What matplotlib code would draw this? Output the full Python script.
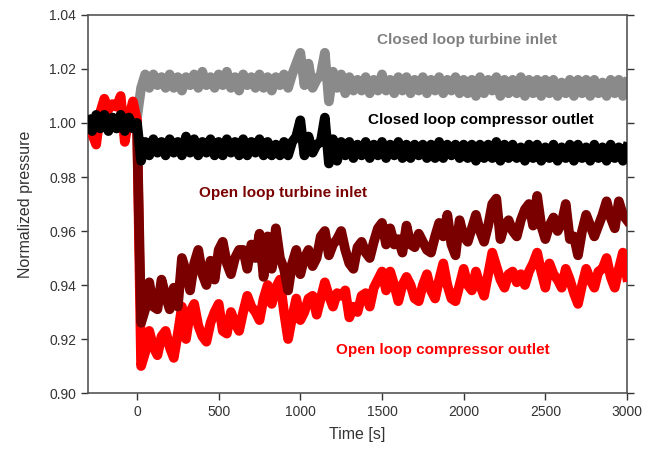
import numpy as np
import matplotlib as mpl
mpl.use('Agg')
import matplotlib.pyplot as plt

plt.rcParams['font.family'] = ['Liberation Sans', 'DejaVu Sans']

# sampling grid of the logged traces [s]
time_s = np.arange(-300, 3001, 25)

# normalized pressures (t = -300 ... 3000 s, every 25 s)
closed_turbine_in = [
    1.000, 0.999, 1.001, 0.999, 1.001, 1.000, 1.001, 0.999, 1.001, 1.000, 1.001, 0.999, 1.002,
    1.013, 1.018, 1.013, 1.018, 1.014, 1.017, 1.013, 1.018, 1.013, 1.017,
    1.012, 1.017, 1.014, 1.018, 1.013, 1.019, 1.014, 1.017, 1.013, 1.018,
    1.014, 1.019, 1.013, 1.017, 1.012, 1.018, 1.014, 1.017, 1.013, 1.018,
    1.013, 1.017, 1.012, 1.017, 1.014, 1.018, 1.013, 1.018, 1.022, 1.026,
    1.014, 1.022, 1.013, 1.016, 1.018, 1.026, 1.008, 1.019, 1.013, 1.018,
    1.011, 1.017, 1.012, 1.016, 1.012, 1.017, 1.011, 1.016, 1.012, 1.018,
    1.012, 1.016, 1.011, 1.017, 1.012, 1.017, 1.011, 1.016, 1.012, 1.017,
    1.011, 1.016, 1.012, 1.017, 1.011, 1.016, 1.012, 1.017, 1.011, 1.016,
    1.011, 1.016, 1.010, 1.017, 1.011, 1.016, 1.012, 1.017, 1.010, 1.016,
    1.011, 1.016, 1.011, 1.017, 1.010, 1.016, 1.011, 1.016, 1.010, 1.016,
    1.011, 1.016, 1.010, 1.015, 1.011, 1.016, 1.010, 1.016, 1.011, 1.016,
    1.010, 1.016, 1.011, 1.015, 1.010, 1.016, 1.011, 1.016, 1.010, 1.015,
]
closed_comp_out = [
    1.001, 0.997, 1.003, 0.998, 1.003, 0.997, 1.002, 0.998, 1.003, 0.997, 1.002, 0.998, 1.000,
    0.986, 0.993, 0.988, 0.994, 0.989, 0.993, 0.988, 0.994, 0.989, 0.993,
    0.988, 0.995, 0.989, 0.994, 0.988, 0.993, 0.989, 0.994, 0.988, 0.993,
    0.988, 0.994, 0.989, 0.993, 0.988, 0.994, 0.988, 0.993, 0.989, 0.994,
    0.988, 0.993, 0.988, 0.992, 0.988, 0.993, 0.988, 0.993, 0.995, 1.001,
    0.988, 0.995, 0.989, 0.992, 0.993, 1.002, 0.985, 0.994, 0.986, 0.993,
    0.988, 0.993, 0.987, 0.992, 0.988, 0.993, 0.987, 0.992, 0.988, 0.993,
    0.987, 0.992, 0.988, 0.993, 0.987, 0.992, 0.987, 0.992, 0.988, 0.992,
    0.987, 0.992, 0.987, 0.993, 0.987, 0.992, 0.988, 0.992, 0.987, 0.992,
    0.987, 0.992, 0.986, 0.992, 0.987, 0.992, 0.987, 0.993, 0.986, 0.992,
    0.987, 0.992, 0.987, 0.991, 0.986, 0.992, 0.987, 0.992, 0.986, 0.991,
    0.987, 0.992, 0.986, 0.991, 0.987, 0.992, 0.986, 0.992, 0.987, 0.991,
    0.986, 0.992, 0.987, 0.991, 0.986, 0.992, 0.987, 0.991, 0.986, 0.991,
]
open_turbine_in = [
    1.000, 0.998, 1.002, 0.999, 1.003, 0.999, 1.002, 0.998, 1.003, 0.998, 1.002, 0.999, 1.000,
    0.926, 0.931, 0.941, 0.932, 0.931, 0.942, 0.936, 0.931, 0.939, 0.932,
    0.950, 0.945, 0.938, 0.948, 0.953, 0.944, 0.940, 0.949, 0.942, 0.953,
    0.956, 0.948, 0.944, 0.950, 0.953, 0.953, 0.946, 0.955, 0.950, 0.959,
    0.943, 0.958, 0.946, 0.961, 0.950, 0.946, 0.938, 0.948, 0.953, 0.944,
    0.950, 0.953, 0.947, 0.950, 0.958, 0.960, 0.951, 0.955, 0.957, 0.960,
    0.953, 0.948, 0.946, 0.954, 0.956, 0.952, 0.950, 0.956, 0.961, 0.963,
    0.955, 0.961, 0.955, 0.957, 0.952, 0.962, 0.955, 0.954, 0.959, 0.956,
    0.953, 0.952, 0.958, 0.963, 0.958, 0.966, 0.955, 0.951, 0.964, 0.958,
    0.956, 0.961, 0.966, 0.960, 0.956, 0.962, 0.970, 0.972, 0.957, 0.962,
    0.964, 0.960, 0.958, 0.964, 0.968, 0.970, 0.962, 0.973, 0.962, 0.957,
    0.962, 0.965, 0.960, 0.963, 0.970, 0.957, 0.958, 0.951, 0.960, 0.966,
    0.962, 0.958, 0.962, 0.966, 0.971, 0.965, 0.961, 0.971, 0.966, 0.964,
]
open_comp_out = [
    1.000, 0.996, 0.992, 1.004, 1.009, 1.005, 1.007, 1.006, 1.010, 0.993, 1.002, 1.008, 1.001,
    0.910, 0.915, 0.923, 0.917, 0.914, 0.921, 0.923, 0.917, 0.913, 0.922,
    0.932, 0.920, 0.930, 0.933, 0.925, 0.921, 0.919, 0.926, 0.930, 0.933,
    0.923, 0.922, 0.930, 0.926, 0.923, 0.930, 0.936, 0.932, 0.930, 0.927,
    0.935, 0.940, 0.933, 0.939, 0.942, 0.930, 0.920, 0.928, 0.935, 0.927,
    0.930, 0.935, 0.936, 0.929, 0.935, 0.941, 0.936, 0.932, 0.937, 0.936,
    0.938, 0.928, 0.932, 0.930, 0.936, 0.937, 0.932, 0.939, 0.942, 0.945,
    0.938, 0.945, 0.940, 0.934, 0.940, 0.943, 0.940, 0.935, 0.934, 0.940,
    0.944, 0.938, 0.935, 0.942, 0.948, 0.940, 0.935, 0.934, 0.940, 0.946,
    0.940, 0.938, 0.945, 0.940, 0.936, 0.944, 0.952, 0.947, 0.942, 0.939,
    0.944, 0.945, 0.941, 0.944, 0.940, 0.945, 0.948, 0.952, 0.945, 0.939,
    0.948, 0.944, 0.942, 0.939, 0.946, 0.942, 0.937, 0.933, 0.940, 0.946,
    0.942, 0.939, 0.945, 0.946, 0.950, 0.943, 0.939, 0.946, 0.952, 0.943,
]

x_ticks = [0, 500, 1000, 1500, 2000, 2500, 3000]
y_ticks = [0.90, 0.92, 0.94, 0.96, 0.98, 1.00, 1.02, 1.04]

fig = plt.figure(figsize=(6.5, 4.57), dpi=100)
ax = fig.add_axes([0.1354, 0.14, 0.8292, 0.8272])

ax.plot(time_s, closed_turbine_in, color='#8a8a8a', lw=7, zorder=2)
ax.plot(time_s, open_comp_out, color='#ff0000', lw=7, zorder=3)
ax.plot(time_s, open_turbine_in, color='#7a0000', lw=7, zorder=4)
ax.plot(time_s, closed_comp_out, color='#000000', lw=7, zorder=5)

ax.set_xlim(-300, 3000)
ax.set_ylim(0.90, 1.04)
ax.set_xticks(x_ticks)
ax.set_yticks(y_ticks)
ax.set_yticklabels(['%.2f' % v for v in y_ticks])
ax.tick_params(axis='both', direction='out', length=5, width=1, colors='#333333',
               labelsize=10, labelcolor='#333333')
ax.tick_params(axis='y', right=True)
for sp in ax.spines.values():
    sp.set_color('#555555')
    sp.set_linewidth(1.2)

ax.set_xlabel('Time [s]', fontsize=11.5, color='#333333', labelpad=6)
ax.set_ylabel('Normalized pressure', fontsize=11.5, color='#333333', labelpad=12)

tkw = dict(ha='center', va='center', fontsize=11, fontweight='bold')
ax.text(2020, 1.0307, 'Closed loop turbine inlet', color='#808080', **tkw)
ax.text(2104, 1.0011, 'Closed loop compressor outlet', color='#000000', **tkw)
ax.text(892, 0.974, 'Open loop turbine inlet', color='#7a0000', **tkw)
ax.text(1872, 0.916, 'Open loop compressor outlet', color='#ff0000', **tkw)

fig.savefig('out.png', dpi=100)
